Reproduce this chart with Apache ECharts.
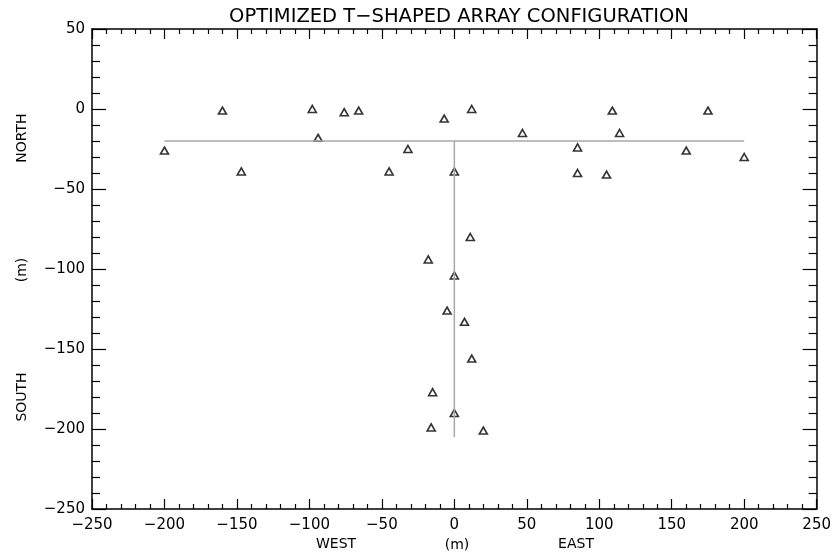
<html>
<head>
<meta charset="utf-8">
<title>T-shaped array</title>
<script src="https://cdn.jsdelivr.net/npm/echarts@6/dist/echarts.min.js"></script>
<style>
  html, body { margin: 0; padding: 0; background: #fff; }
  #main { width: 834px; height: 555px; }
</style>
</head>
<body>
<div id="main"></div>
<script>
// antenna positions, metres (east, north)
var eastPos = [-200, -160, -147, -98, -94, -76, -66, -45, -32, -7, 12, 0, 47, 85, 85, 105, 109, 114, 160, 175, 200,
               11, -18, 0, -5, 7, 12, -15, 0, -16, 20];
var northPos = [-26, -1, -39, 0, -18, -2, -1, -39, -25, -6, 0, -39, -15, -24, -40, -41, -1, -15, -26, -1, -30,
                -80, -94, -104, -126, -133, -156, -177, -190, -199, -201];

// the T arms
var armX = [-200, 200];
var armY = [-20, -20];
var stemX = [0, 0];
var stemY = [-20, -205];

var axisMin = -250, axisMaxX = 250, axisMaxY = 50, step = 50;

var FONT = '"DejaVu Sans", Verdana, sans-serif';

function pairs(xs, ys) {
    var out = [];
    for (var i = 0; i < xs.length; i++) out.push([xs[i], ys[i]]);
    return out;
}
function minus(v) {
    return String(v).replace('-', '\u2212');
}

var myChart = echarts.init(document.getElementById('main'));

var axisLine = { show: true, onZero: false, lineStyle: { color: '#000', width: 1.5 } };

function xAxis(pos, showLabel) {
    return {
        type: 'value', position: pos, min: axisMin, max: axisMaxX, interval: step,
        axisLine: axisLine,
        axisTick: { inside: true, length: 10, lineStyle: { color: '#000', width: 1.2 } },
        minorTick: { show: true, splitNumber: 5, length: 5, lineStyle: { color: '#000', width: 1.2 } },
        splitLine: { show: false },
        axisLabel: { show: showLabel, color: '#000', fontFamily: FONT, fontSize: 15, margin: 9,
                     formatter: minus }
    };
}
function yAxis(pos, showLabel) {
    return {
        type: 'value', position: pos, min: axisMin, max: axisMaxY, interval: step,
        axisLine: axisLine,
        axisTick: { inside: true, length: 14, lineStyle: { color: '#000', width: 1.2 } },
        minorTick: { show: true, splitNumber: 5, length: 8, lineStyle: { color: '#000', width: 1.2 } },
        splitLine: { show: false },
        axisLabel: { show: showLabel, color: '#000', fontFamily: FONT, fontSize: 15, margin: 7,
                     padding: [0, 0, 8, 0], formatter: minus }
    };
}

var lbl = { fontFamily: FONT, fontSize: 14, fill: '#000', textAlign: 'center', textVerticalAlign: 'middle' };

myChart.setOption({
    animation: false,
    backgroundColor: '#fff',
    title: {
        text: 'OPTIMIZED T\u2212SHAPED ARRAY CONFIGURATION',
        left: 454, top: 2, textAlign: 'center',
        textStyle: { fontFamily: FONT, fontSize: 19.5, fontWeight: 'normal', color: '#000' }
    },
    grid: { left: 92, right: 17, top: 29, bottom: 46 },
    xAxis: [xAxis('bottom', true), xAxis('top', false)],
    yAxis: [yAxis('left', true), yAxis('right', false)],
    graphic: [
        { type: 'text', x: 336, y: 544, style: Object.assign({ text: 'WEST' }, lbl) },
        { type: 'text', x: 457, y: 545, style: Object.assign({ text: '(m)' }, lbl) },
        { type: 'text', x: 576, y: 544, style: Object.assign({ text: 'EAST' }, lbl) },
        { type: 'text', x: 22, y: 138, rotation: Math.PI / 2, style: Object.assign({ text: 'NORTH' }, lbl) },
        { type: 'text', x: 22, y: 270, rotation: Math.PI / 2, style: Object.assign({ text: '(m)' }, lbl) },
        { type: 'text', x: 22, y: 397, rotation: Math.PI / 2, style: Object.assign({ text: 'SOUTH' }, lbl) }
    ],
    series: [
        {
            type: 'line', data: pairs(armX, armY), symbol: 'none',
            lineStyle: { color: '#a8a8a8', width: 1.5 }
        },
        {
            type: 'line', data: pairs(stemX, stemY), symbol: 'none',
            lineStyle: { color: '#a8a8a8', width: 1.5 }
        },
        {
            type: 'scatter', data: pairs(eastPos, northPos),
            symbol: 'triangle', symbolSize: [8, 7],
            itemStyle: { color: '#fff', borderColor: '#000', borderWidth: 1.6 }
        }
    ]
});
</script>
</body>
</html>
